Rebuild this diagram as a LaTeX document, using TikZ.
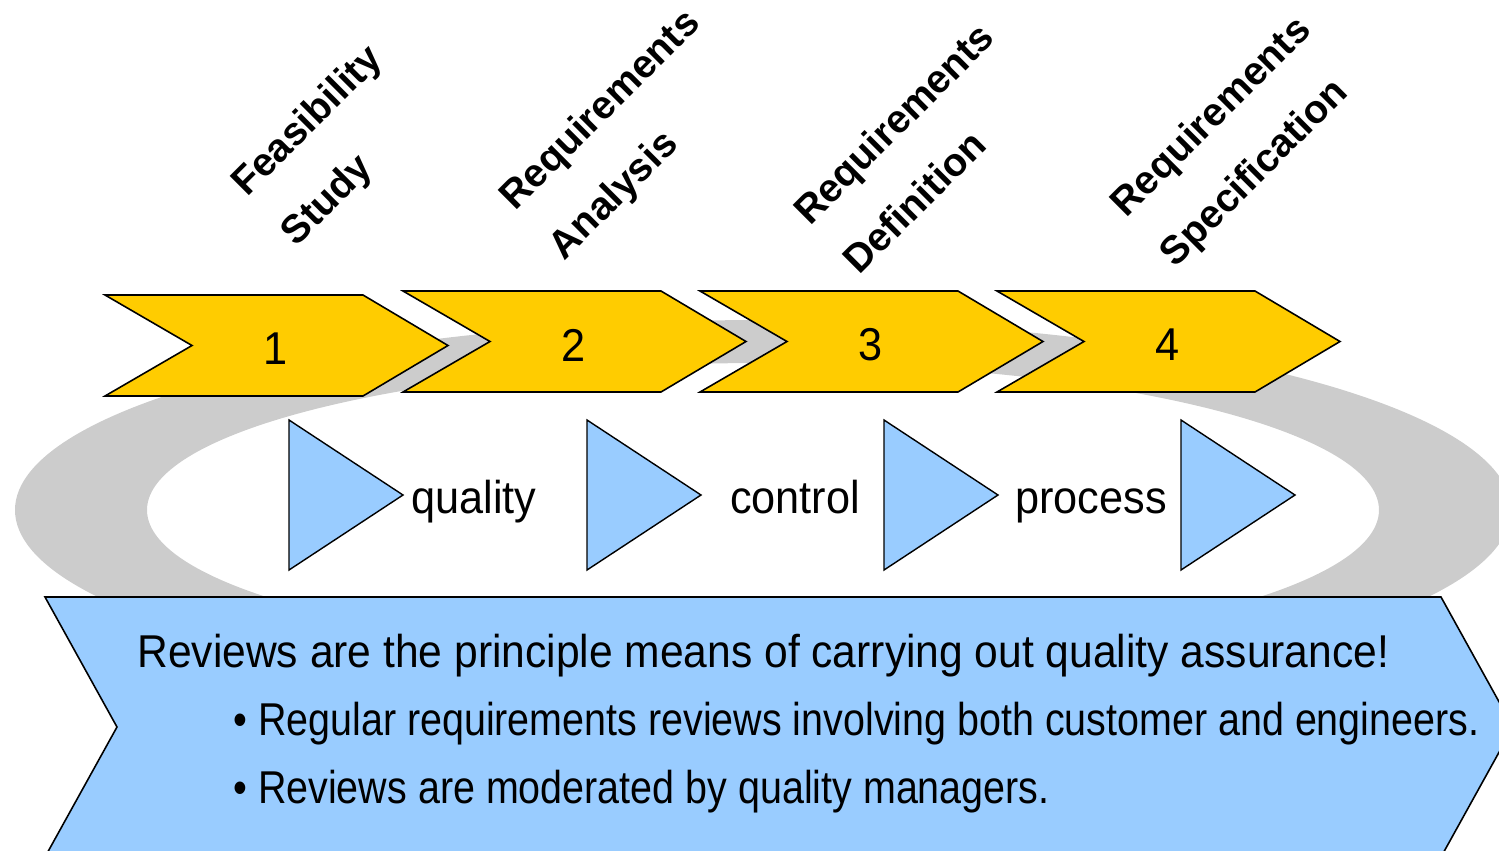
\documentclass[tikz,border=0pt]{standalone}
\usepackage{fontspec}
\setmainfont{Liberation Sans}
\newfontfamily\narrowfont[FakeStretch=0.857]{Liberation Sans}
\newfontfamily\headfont[FakeStretch=0.925]{Liberation Sans}
\newfontfamily\loopfont[FakeStretch=0.94]{Liberation Sans}
\usetikzlibrary{positioning}

\definecolor{stageyellow}{RGB}{255,204,0}
\definecolor{reviewblue}{RGB}{153,204,255}
\definecolor{loopgray}{RGB}{204,204,204}

\begin{document}
\begin{tikzpicture}
[x=0.02cm, y=-0.02cm, line join=miter,
stage/.style={draw=black, line width=0.9pt, fill=stageyellow},
pointer/.style={draw=black, line width=0.8pt, fill=reviewblue},
banner/.style={draw=black, line width=0.9pt, fill=reviewblue},
word/.style={font=\loopfont\fontsize{26.2}{30}\selectfont, inner sep=0pt},
bullet/.style={font=\narrowfont\fontsize{26.2}{30}\selectfont, inner sep=0pt, anchor=base west},
phasename/.style={font=\bfseries\fontsize{22.5}{39.8}\selectfont, rotate=45, align=left, inner sep=0pt}
]

\useasboundingbox (0,0) rectangle (1499,850);
\clip (0,0) rectangle (1499,850);

% grey loop behind the stages
\fill[loopgray, even odd rule]
(763,510) ellipse [x radius=748, y radius=190]
(763,510) ellipse [x radius=616, y radius=147];

% top left corners of the stages
\path
(105,295) coordinate (c1)
(403,291) coordinate (c2)
(700,291) coordinate (c3)
(997,291) coordinate (c4)
;

% upper corners of the quality pointers
\path
(289,420) coordinate (p1)
(587,420) coordinate (p2)
(884,420) coordinate (p3)
(1181,420) coordinate (p4)
;

\path[pointer] foreach \x in {1,...,4}
{(p\x) -- ++(0,150) -- ++(114,-75) -- cycle}
;

\path[stage] foreach \x in {1,...,4}
{(c\x) -- ++(258,0) -- ++(85,50.5) -- ++(-85,50.5) -- ++(-258,0) -- ++(87,-50.5) -- cycle}
;

% stage numbers
\path foreach \x in {1,...,4}
{(c\x) ++(171,54) node[word] (N\x) {\x}}
;

% stage names
\node[phasename] (L1) at (333,147) {Feasibility\\Study};
\node[phasename] (L2) at (626,136) {Requirements\\Analysis};
\node[phasename] (L3) at (918,148) {Requirements\\Definition};
\node[phasename] (L4) at (1237,143) {Requirements\\Specification};

% words between the pointers
\node[word, anchor=base west] (W1) at (411,513) {quality};
\node[word, anchor=base] (W2) at (795,513) {control};
\node[word, anchor=base] (W3) at (1091,513) {process};

% review banner
\path[banner] (45,597) -- (1441,597) -- (1513,727) -- (1441,857) -- (45,857) -- (117,727) -- cycle;

\node[word, font=\headfont\fontsize{26.2}{30}\selectfont, anchor=base west] (R1) at (137,667) {Reviews are the principle means of carrying out quality assurance!};
\node[bullet] (R2) at (233,735) {\textbullet\ Regular requirements reviews involving both customer and engineers.};
\node[bullet] (R3) at (233,803) {\textbullet\ Reviews are moderated by quality managers.};

\end{tikzpicture}
\end{document}
